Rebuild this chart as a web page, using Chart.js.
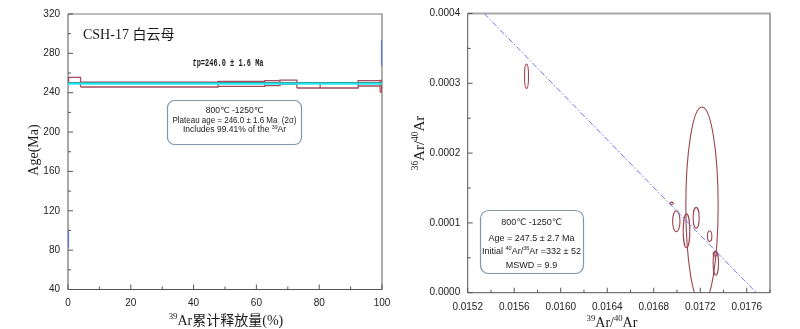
<!DOCTYPE html>
<html>
<head>
<meta charset="utf-8">
<script src="https://cdn.jsdelivr.net/npm/chart.js@4"></script>
<style>
  body { margin: 0; background: #fff; width: 800px; height: 329px; overflow: hidden; position: relative; }
  canvas { position: absolute; top: 0; }
  #spectrumChart { left: 0; }
  #isochronChart { left: 400px; }
</style>
</head>
<body>
<canvas id="spectrumChart" width="400" height="329"></canvas>
<canvas id="isochronChart" width="400" height="329"></canvas>
<script>
// ---------- Age spectrum data (left) ---------- //
const stepStart = [0, 0.2, 4.0, 47.8, 62.7, 67.5, 72.9, 80.3, 92.4, 99.4, 99.9];
const stepEnd = [0.2, 4.0, 47.8, 62.7, 67.5, 72.9, 80.3, 92.4, 99.4, 99.9, 100];
const ageLow = [83.5, 249.5, 245.8, 246.5, 247.2, 248.5, 244.8, 244.8, 246.8, 240.5, 267.5];
const ageHigh = [99.5, 255.5, 250.8, 251.5, 252.2, 252.8, 249.5, 249.8, 252.2, 252.5, 292.5];
const inPlateau = [false, true, true, true, true, true, true, true, true, true, false];
const plateauBand = [248, 250.4];
const releaseTicks = [0, 20, 40, 60, 80, 100];
const ageTicks = [40, 80, 120, 160, 200, 240, 280, 320];

// ---------- Isochron data (right) ---------- //
const ratio39 = [0.015706, 0.017215, 0.016954, 0.016994, 0.017082, 0.017165, 0.017281, 0.017334, 0.017328];
const ratio39Err = [0.0000171, 0.0001389, 0.0000146, 0.0000317, 0.0000283, 0.0000257, 0.0000189, 0.0000231, 0.0000171];
const ratio36 = [0.00031, 0.000125, 0.000128, 0.0001025, 0.0000886, 0.0001072, 0.000081, 0.0000424, 0.0000556];
const ratio36Err = [0.0000176, 0.000141, 0.0000017, 0.000015, 0.0000243, 0.000015, 0.0000074, 0.0000174, 0.0000031];
const isochronX = [0.015342, 0.017682];
const isochronY = [0.0004, 0];
const ratio39Ticks = [0.0152, 0.0156, 0.016, 0.0164, 0.0168, 0.0172, 0.0176];
const ratio36Ticks = [0, 0.0001, 0.0002, 0.0003, 0.0004];

const stepRed = "#a64b5c";
const stepBlue = "#5c6ef0";
const tickFont = { family: "'Liberation Sans', Arial, sans-serif", size: 10 };
const serif = "'Liberation Serif', 'Times New Roman', 'Noto Sans CJK SC', serif";
const sans = "'Liberation Sans', Arial, 'DejaVu Sans', 'Noto Sans CJK SC', sans-serif";

const fixedWidth = (w) => (scale) => { scale.width = w; };
const fixedHeight = (h) => (scale) => { scale.height = h; };
const useTicks = (values) => (scale) => { scale.ticks = values.map((value) => ({ value })); };

// rectangle outline of every heating step, one path per group
function stepOutlines(wanted) {
  const points = [];
  stepStart.forEach((x0, i) => {
    if (inPlateau[i] !== wanted) return;
    const x1 = stepEnd[i];
    points.push(
      { x: x0, y: ageLow[i] }, { x: x0, y: ageHigh[i] },
      { x: x1, y: ageHigh[i] }, { x: x1, y: ageLow[i] },
      { x: x0, y: ageLow[i] }, { x: x1, y: null }
    );
  });
  return points;
}

// text with superscript / italic pieces
function drawRich(ctx, parts, x, y, opts) {
  const { size, family, align = "center", weight = "normal", fit } = opts;
  const fontFor = (style) => {
    const s = style === "sup" ? size * 0.62 : size;
    return `${style === "it" ? "italic " : ""}${weight} ${s}px ${family}`;
  };
  let width = 0;
  parts.forEach(([t, s]) => { ctx.font = fontFor(s); width += ctx.measureText(t).width; });
  const k = fit ? fit / width : 1;
  const w = width * k;
  let cx = align === "center" ? x - w / 2 : align === "right" ? x - w : x;
  ctx.save();
  ctx.translate(cx, y);
  ctx.scale(k, 1);
  ctx.textAlign = "left";
  ctx.textBaseline = "alphabetic";
  let px = 0;
  parts.forEach(([t, s]) => {
    ctx.font = fontFor(s);
    ctx.fillText(t, px, s === "sup" ? -size * 0.4 : 0);
    px += ctx.measureText(t).width;
  });
  ctx.restore();
}

function roundBox(ctx, x, y, w, h, r, color) {
  ctx.save();
  ctx.strokeStyle = color;
  ctx.lineWidth = 1.2;
  ctx.beginPath();
  ctx.roundRect(x, y, w, h, r);
  ctx.stroke();
  ctx.restore();
}

// frame + inward major/minor ticks
const frameTicks = {
  id: "frameTicks",
  beforeDatasetsDraw(chart, args, opts) {
    const { ctx, chartArea: a, scales } = chart;
    ctx.save();
    ctx.lineWidth = opts.edgeWidth;
    ctx.strokeStyle = opts.edge;
    ctx.beginPath();
    ctx.moveTo(a.left, a.top);
    ctx.lineTo(a.right, a.top);
    ctx.lineTo(a.right, a.bottom);
    ctx.stroke();

    ctx.lineWidth = 1;
    ctx.strokeStyle = opts.axis;
    ctx.beginPath();
    ctx.moveTo(a.left, a.top);
    ctx.lineTo(a.left, a.bottom);
    ctx.lineTo(a.right, a.bottom);
    const xs = scales.x.ticks.map((t) => t.value);
    const ys = scales.y.ticks.map((t) => t.value);
    const mids = (v) => v.slice(1).map((t, i) => (t + v[i]) / 2);
    const xMinor = mids(xs);
    if (opts.extraX !== undefined) xMinor.push(opts.extraX);
    xs.forEach((v) => { const p = scales.x.getPixelForValue(v); ctx.moveTo(p, a.bottom); ctx.lineTo(p, a.bottom - 5); });
    xMinor.forEach((v) => { const p = scales.x.getPixelForValue(v); ctx.moveTo(p, a.bottom); ctx.lineTo(p, a.bottom - 3); });
    ys.forEach((v) => { const p = scales.y.getPixelForValue(v); ctx.moveTo(a.left, p); ctx.lineTo(a.left + 5, p); });
    mids(ys).forEach((v) => { const p = scales.y.getPixelForValue(v); ctx.moveTo(a.left, p); ctx.lineTo(a.left + 3, p); });
    ctx.stroke();
    ctx.restore();
  },
};

// ---------- Age spectrum chart ---------- //
const spectrumText = {
  id: "spectrumText",
  afterDraw(chart) {
    const ctx = chart.ctx;
    ctx.fillStyle = "#1a1a1a";
    drawRich(ctx, [["CSH-17 白云母", ""]], 83, 38.5, { size: 14, family: serif, align: "left" });
    drawRich(ctx, [["t", "it"], ["p=246.0 ± 1.6 Ma", ""]], 228, 66,
      { size: 11, family: "'Liberation Mono', 'DejaVu Sans Mono', monospace", weight: "bold", fit: 71 });

    roundBox(ctx, 167.5, 100.5, 134, 44, 7, "#7f98ad");
    drawRich(ctx, [["800℃ -1250℃", ""]], 234.5, 113, { size: 8.5, family: sans });
    drawRich(ctx, [["Plateau age = 246.0 ± 1.6 Ma  (2σ)", ""]], 234.5, 122.5, { size: 8.5, family: sans, fit: 124 });
    drawRich(ctx, [["Includes 99.41% of the ", ""], ["39", "sup"], ["Ar", ""]], 234.5, 132, { size: 8.5, family: sans });

    drawRich(ctx, [["39", "sup"], ["Ar累计释放量(%)", ""]], 226, 325, { size: 14, family: serif });
    ctx.save();
    ctx.translate(33, 150);
    ctx.rotate(-Math.PI / 2);
    drawRich(ctx, [["Age(Ma)", ""]], 0, 5, { size: 14, family: serif });
    ctx.restore();
  },
};

new Chart(document.getElementById("spectrumChart"), {
  type: "scatter",
  data: {
    datasets: [
      {
        data: [{ x: 0, y: plateauBand[0] }, { x: 100, y: plateauBand[0] }],
        showLine: true, pointRadius: 0, borderWidth: 0, borderColor: "#19e6ea",
      },
      {
        data: [{ x: 0, y: plateauBand[1] }, { x: 100, y: plateauBand[1] }],
        showLine: true, pointRadius: 0, borderWidth: 1, borderColor: "#3a9ea0",
        backgroundColor: "#22e8ec", fill: "-1",
      },
      {
        data: stepOutlines(true),
        showLine: true, spanGaps: false, pointRadius: 0, borderWidth: 1.3, borderColor: stepRed,
      },
      {
        data: stepOutlines(false),
        showLine: true, spanGaps: false, pointRadius: 0, borderWidth: 1.5, borderColor: stepBlue,
      },
    ],
  },
  options: {
    responsive: false,
    animation: false,
    layout: { padding: { top: 9.5, right: 18, left: 0, bottom: 0 } },
    plugins: {
      legend: { display: false },
      tooltip: { enabled: false },
      frameTicks: { edge: "#7a7a7a", edgeWidth: 1.2, axis: "#555" },
    },
    scales: {
      x: {
        type: "linear", min: 0, max: 100,
        afterBuildTicks: useTicks(releaseTicks),
        afterFit: fixedHeight(39.5),
        grid: { display: false, drawTicks: false },
        border: { display: false },
        ticks: { padding: 7.5, color: "#222", font: tickFont, maxRotation: 0, autoSkip: false },
      },
      y: {
        type: "linear", min: 40, max: 320,
        afterBuildTicks: useTicks(ageTicks),
        afterFit: fixedWidth(68),
        grid: { display: false, drawTicks: false },
        border: { display: false },
        ticks: { padding: 8, color: "#222", font: tickFont, autoSkip: false },
      },
    },
  },
  plugins: [frameTicks, spectrumText],
});

// ---------- Isochron chart ---------- //
const errorEllipses = {
  id: "errorEllipses",
  beforeDatasetsDraw(chart) {
    const { ctx, chartArea: a, scales: { x, y } } = chart;
    ctx.save();
    ctx.beginPath();
    ctx.rect(a.left, a.top, a.right - a.left, a.bottom - a.top);
    ctx.clip();
    ctx.strokeStyle = "#9c4452";
    ctx.lineWidth = 1.1;
    ratio39.forEach((rx, i) => {
      const cx = x.getPixelForValue(rx);
      const cy = y.getPixelForValue(ratio36[i]);
      const w = Math.abs(x.getPixelForValue(rx + ratio39Err[i]) - cx);
      const h = Math.abs(y.getPixelForValue(ratio36[i] + ratio36Err[i]) - cy);
      ctx.beginPath();
      ctx.ellipse(cx, cy, w, h, 0, 0, Math.PI * 2);
      ctx.stroke();
    });
    ctx.restore();
  },
};

const isochronText = {
  id: "isochronText",
  afterDraw(chart) {
    const ctx = chart.ctx;
    ctx.fillStyle = "#1a1a1a";
    roundBox(ctx, 80.5, 210.5, 103, 63, 8, "#7f98ad");
    drawRich(ctx, [["800℃ -1250℃", ""]], 131.5, 225, { size: 9, family: sans });
    drawRich(ctx, [["Age = 247.5 ± 2.7 Ma", ""]], 131.5, 240.5, { size: 9, family: sans });
    drawRich(ctx, [["Initial ", ""], ["40", "sup"], ["Ar/", ""], ["36", "sup"], ["Ar =332 ± 52", ""]],
      131.5, 254, { size: 9, family: sans });
    drawRich(ctx, [["MSWD = 9.9", ""]], 131.5, 268, { size: 9, family: sans });

    drawRich(ctx, [["39", "sup"], ["Ar/", ""], ["40", "sup"], ["Ar", ""]], 212, 327, { size: 14, family: serif });
    ctx.save();
    ctx.translate(19, 143);
    ctx.rotate(-Math.PI / 2);
    drawRich(ctx, [["36", "sup"], ["Ar/", ""], ["40", "sup"], ["Ar", ""]], 0, 5, { size: 15, family: serif });
    ctx.restore();
  },
};

new Chart(document.getElementById("isochronChart"), {
  type: "scatter",
  data: {
    datasets: [
      {
        data: isochronX.map((x, i) => ({ x, y: isochronY[i] })),
        showLine: true, pointRadius: 0, borderWidth: 1,
        borderColor: "#7474ea", borderDash: [6, 2, 1.5, 2],
      },
    ],
  },
  options: {
    responsive: false,
    animation: false,
    layout: { padding: { top: 5, right: 30, left: 0, bottom: 0 } },
    plugins: {
      legend: { display: false },
      tooltip: { enabled: false },
      frameTicks: { edge: "#a8a8a8", edgeWidth: 2, axis: "#555", extraX: 0.0178 },
    },
    scales: {
      x: {
        type: "linear", min: 0.0152, max: 0.0178,
        afterBuildTicks: useTicks(ratio39Ticks),
        afterFit: fixedHeight(36.3),
        grid: { display: false, drawTicks: false },
        border: { display: false },
        ticks: {
          padding: 8.5, color: "#222", font: tickFont, maxRotation: 0, autoSkip: false,
          callback: (v) => Number(v).toFixed(4),
        },
      },
      y: {
        type: "linear", min: 0, max: 0.0004,
        afterBuildTicks: useTicks(ratio36Ticks),
        afterFit: fixedWidth(67.7),
        grid: { display: false, drawTicks: false },
        border: { display: false },
        ticks: {
          padding: 7.5, color: "#222", font: tickFont, autoSkip: false,
          callback: (v) => Number(v).toFixed(4),
        },
      },
    },
  },
  plugins: [frameTicks, errorEllipses, isochronText],
});
</script>
</body>
</html>
